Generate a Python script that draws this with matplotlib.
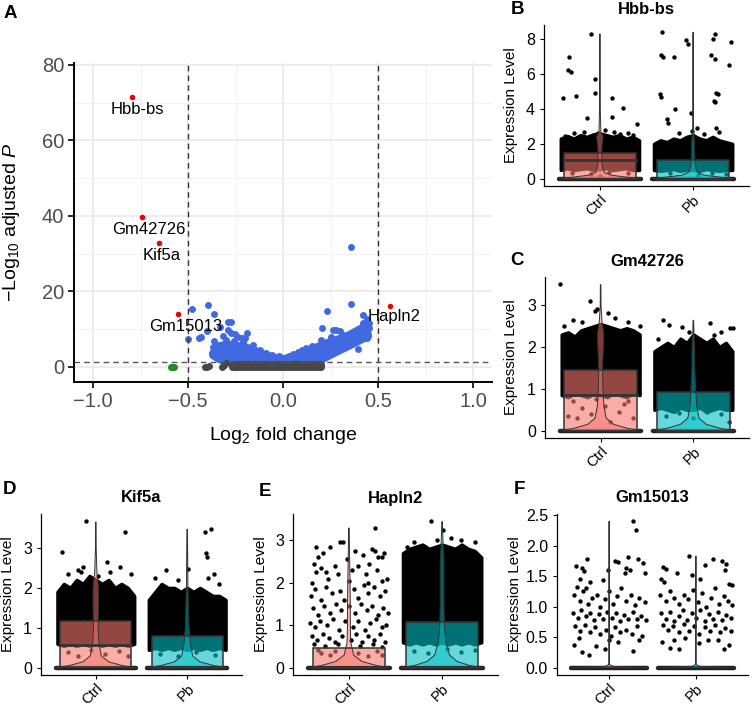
import numpy as np
import matplotlib
matplotlib.use('Agg')
import matplotlib.pyplot as plt
from matplotlib.patches import Rectangle, Polygon

plt.rcParams['font.family'] = ['Liberation Sans', 'DejaVu Sans']
plt.rcParams['mathtext.fontset'] = 'custom'
plt.rcParams['mathtext.rm'] = 'Liberation Sans'
plt.rcParams['mathtext.it'] = 'Liberation Sans:italic'

# ---------------- panel A : volcano ----------------
lab_genes = ['Hbb-bs', 'Gm42726', 'Kif5a', 'Gm15013', 'Hapln2']
lab_fc = [-0.795, -0.744, -0.654, -0.551, 0.561]
lab_p = [71.4, 39.7, 32.8, 13.9, 16.2]

blue_fc = [-0.477, -0.393, -0.363, -0.291, -0.275, -0.498, -0.44, -0.43, -0.332, -0.288,
           -0.275, -0.253, -0.317, -0.238, -0.217, -0.188, -0.398, -0.361, -0.367, -0.349,
           -0.375, -0.34, -0.30, -0.26, -0.21, -0.16, -0.12, -0.09, -0.06, -0.20,
           0.356, 0.356, 0.23, 0.419, 0.44, 0.45, 0.45, 0.44, 0.447, 0.207,
           0.265, 0.28, 0.30, 0.317, 0.393, 0.44, 0.25, 0.34, 0.37, 0.40,
           0.20, 0.15, 0.10, 0.05, 0.42, 0.43, 0.38, 0.33, 0.12, 0.08, 0.03, -0.02]
blue_p = [15.3, 16.3, 14.0, 11.9, 11.9, 7.3, 7.6, 7.9, 10.7, 9.8,
          8.9, 8.6, 8.2, 7.9, 7.7, 8.9, 9.5, 6.9, 5.4, 5.4,
          3.8, 2.3, 7.0, 6.8, 6.5, 5.8, 4.5, 3.8, 3.2, 7.6,
          31.8, 16.7, 14.8, 13.8, 12.6, 11.6, 10.4, 9.4, 8.5, 10.2,
          9.9, 9.9, 9.6, 8.5, 4.7, 7.6, 7.9, 7.3, 8.0, 8.8,
          7.0, 5.5, 4.4, 3.4, 11.6, 10.8, 9.2, 8.0, 5.0, 4.0, 3.0, 2.8]

# envelope of the densely packed blue points
blue_core_fc = [-0.37, -0.35, -0.30, -0.25, -0.20, -0.15, -0.10, -0.05, 0.00, 0.05, 0.10,
                0.15, 0.20, 0.25, 0.30, 0.35, 0.40, 0.44,
                0.45, 0.40, 0.35, 0.30, 0.26, 0.21, 0.19, -0.30, -0.34, -0.37]
blue_core_p = [3.5, 5.5, 6.0, 5.8, 5.4, 4.5, 3.4, 2.6, 2.2, 2.7, 3.7,
               4.8, 5.8, 6.8, 7.6, 8.6, 10.0, 11.0,
               8.0, 6.8, 5.5, 4.3, 3.3, 2.0, 1.3, 1.3, 2.0, 3.0]

grey_fc = [-0.40, -0.39, -0.41, -0.32, -0.31, -0.30, -0.315]
grey_p = [0.0, 0.3, 0.1, 0.0, 0.6, 1.0, 0.3]
grey_core_fc = [-0.27, 0.20, 0.20, -0.27]
grey_core_p = [0.0, 0.0, 0.9, 0.9]

green_fc = [-0.592, -0.583, -0.575]
green_p = [0.0, 0.0, 0.0]

fc_cut = 0.5
p_cut = 1.3

# ---------------- violin panels ----------------
genes = ['Hbb-bs', 'Gm42726', 'Kif5a', 'Hapln2', 'Gm15013']
panel_letters = ['B', 'C', 'D', 'E', 'F']
groups = ['Ctrl', 'Pb']
group_colors = ['#F8766D', '#00BFC4']

# (q1, median, q3)
box_ctrl = [(0.0, 1.06, 1.50), (0.0, 0.86, 1.44), (0.02, 0.56, 1.17), (0.02, 0.03, 0.47), (0.0, 0.0, 0.0)]
box_pb = [(0.0, 0.0, 1.07), (0.0, 0.0, 0.92), (0.02, 0.02, 0.79), (0.02, 0.03, 1.08), (0.0, 0.0, 0.0)]
max_ctrl = [8.30, 3.49, 3.65, 3.29, 2.40]
max_pb = [8.40, 2.64, 3.47, 3.44, 1.83]

# violin half-width profiles
vln_y_ctrl = [[0, 0.08, 0.2, 0.35, 0.6, 1.0, 1.6, 2.0, 2.4, 2.7, 4.0, 8.30],
              [0, 0.05, 0.15, 0.3, 0.6, 1.0, 1.5, 2.0, 2.3, 2.6, 3.0, 3.49],
              [0, 0.05, 0.15, 0.3, 0.6, 1.0, 1.5, 2.0, 2.4, 3.0, 3.65],
              [0, 0.05, 0.15, 0.3, 0.6, 1.0, 1.5, 2.0, 2.5, 3.29],
              [0, 0.02, 0.05, 2.40]]
vln_w_ctrl = [[0.46, 0.30, 0.12, 0.05, 0.03, 0.02, 0.02, 0.025, 0.035, 0.01, 0.004, 0.003],
              [0.46, 0.30, 0.14, 0.06, 0.035, 0.025, 0.02, 0.03, 0.035, 0.015, 0.004, 0.003],
              [0.46, 0.30, 0.14, 0.06, 0.035, 0.025, 0.03, 0.03, 0.012, 0.004, 0.003],
              [0.46, 0.30, 0.14, 0.05, 0.02, 0.015, 0.015, 0.012, 0.008, 0.003],
              [0.46, 0.05, 0.004, 0.003]]
vln_y_pb = [[0, 0.08, 0.2, 0.35, 0.6, 1.0, 2.0, 3.0, 8.40],
            [0, 0.05, 0.15, 0.3, 0.6, 1.0, 1.5, 1.9, 2.2, 2.64],
            [0, 0.05, 0.15, 0.3, 0.6, 1.0, 1.5, 2.0, 3.47],
            [0, 0.05, 0.15, 0.3, 0.6, 1.0, 1.5, 2.0, 2.5, 2.8, 3.44],
            [0, 0.02, 0.05, 1.83]]
vln_w_pb = [[0.46, 0.30, 0.12, 0.05, 0.03, 0.02, 0.015, 0.004, 0.003],
            [0.46, 0.30, 0.14, 0.06, 0.035, 0.025, 0.015, 0.015, 0.008, 0.003],
            [0.46, 0.30, 0.14, 0.06, 0.035, 0.02, 0.015, 0.008, 0.003],
            [0.46, 0.30, 0.16, 0.08, 0.04, 0.025, 0.02, 0.02, 0.02, 0.012, 0.003],
            [0.46, 0.05, 0.004, 0.003]]

# dense jitter cloud: upper / lower edge at these offsets
cloud_dx = [-0.42, -0.35, -0.28, -0.21, -0.14, -0.07, 0.0, 0.07, 0.14, 0.21, 0.28, 0.35, 0.42]
cloud_top_ctrl = [[2.3, 2.45, 2.3, 2.5, 2.4, 2.55, 2.6, 2.5, 2.4, 2.5, 2.3, 2.4, 2.2],
                  [2.3, 2.35, 2.25, 2.4, 2.45, 2.5, 2.55, 2.5, 2.45, 2.4, 2.45, 2.4, 2.3],
                  [1.9, 2.1, 2.0, 2.2, 2.1, 2.3, 2.2, 2.1, 2.2, 2.0, 2.1, 2.0, 1.8],
                  None, None]
cloud_bot_ctrl = [[0.5, 0.6, 0.5, 0.55, 0.6, 0.5, 0.55, 0.6, 0.5, 0.55, 0.6, 0.5, 0.5],
                  [0.85, 0.8, 0.9, 0.85, 0.8, 0.9, 0.85, 0.8, 0.9, 0.85, 0.8, 0.9, 0.85],
                  [0.6, 0.55, 0.6, 0.55, 0.6, 0.55, 0.6, 0.55, 0.6, 0.55, 0.6, 0.55, 0.6],
                  None, None]
cloud_top_pb = [[2.0, 2.2, 2.1, 2.3, 2.2, 2.4, 2.5, 2.3, 2.2, 2.4, 2.2, 2.1, 2.0],
                [1.9, 2.0, 2.1, 2.0, 2.2, 2.1, 2.3, 2.2, 2.1, 2.2, 2.0, 2.1, 1.9],
                [1.7, 1.9, 2.1, 2.0, 2.0, 1.9, 2.0, 1.9, 2.0, 1.9, 1.8, 1.8, 1.7],
                [2.7, 2.8, 2.85, 2.9, 2.8, 2.85, 2.9, 2.85, 2.8, 2.9, 2.8, 2.75, 2.6],
                None]
cloud_bot_pb = [[0.5, 0.45, 0.5, 0.55, 0.45, 0.5, 0.5, 0.45, 0.55, 0.5, 0.45, 0.5, 0.5],
                [0.5, 0.55, 0.5, 0.45, 0.55, 0.5, 0.5, 0.55, 0.45, 0.5, 0.55, 0.5, 0.5],
                [0.45, 0.5, 0.45, 0.5, 0.45, 0.5, 0.45, 0.5, 0.45, 0.5, 0.45, 0.5, 0.45],
                [0.6, 0.55, 0.6, 0.55, 0.6, 0.55, 0.6, 0.55, 0.6, 0.55, 0.6, 0.55, 0.6],
                None]

# individually visible jitter points (offset from group centre, expression)
hbb_ctrl_pts = [(-0.40, 4.64), (-0.33, 7.01), (-0.34, 6.25), (-0.31, 6.13), (-0.26, 4.75), (-0.10, 8.3),
                (-0.05, 5.71), (-0.05, 4.92), (-0.14, 3.5), (0.13, 4.62), (0.13, 3.52), (0.25, 4.08),
                (0.40, 3.14), (-0.17, 2.7), (-0.02, 2.65), (0.05, 2.8), (0.15, 2.7), (0.30, 2.6),
                (-0.38, 2.45), (0.36, 2.5), (-0.28, 2.6), (0.22, 2.55),
                (-0.3, 0.35), (-0.1, 0.25), (0.1, 0.4), (0.3, 0.3), (0.0, 0.15)]
hbb_pb_pts = [(-0.33, 8.39), (-0.34, 7.1), (-0.32, 7.0), (-0.21, 7.0), (-0.08, 7.97), (-0.06, 7.74),
              (0.21, 7.99), (0.24, 8.3), (0.41, 7.85), (0.19, 7.1), (0.24, 6.86), (0.38, 6.53),
              (-0.35, 4.85), (-0.34, 4.67), (-0.19, 3.98), (-0.28, 3.43), (-0.27, 3.2), (-0.02, 3.75),
              (0.25, 4.9), (0.27, 4.88), (0.22, 4.45), (0.24, 4.42), (0.04, 2.9), (0.25, 2.9),
              (0.28, 2.66), (-0.01, 2.76), (-0.15, 2.6), (0.12, 2.55),
              (-0.25, 0.3), (0.05, 0.2), (0.2, 0.35), (0.35, 0.25)]
gm42_ctrl_pts = [(-0.435, 3.5), (-0.12, 3.11), (-0.06, 2.87), (-0.04, 2.9), (0.08, 2.82), (-0.3, 2.65),
                 (0.15, 2.7), (0.3, 2.6), (-0.2, 2.6), (0.42, 2.5), (-0.4, 2.5),
                 (-0.3, 0.7), (-0.2, 0.55), (-0.1, 0.4), (0.05, 0.6), (0.2, 0.45), (0.3, 0.7),
                 (0.35, 0.3), (-0.35, 0.35), (0.1, 0.2), (-0.05, 0.75), (0.25, 0.65), (-0.25, 0.3)]
gm42_pb_pts = [(-0.33, 2.64), (0.18, 2.58), (-0.26, 2.52), (-0.12, 2.48), (0.40, 2.46), (0.43, 2.46),
               (0.22, 2.29), (-0.05, 2.35), (0.3, 2.35), (-0.38, 2.2),
               (-0.3, 0.35), (-0.15, 0.42), (0.0, 0.3), (0.15, 0.45), (0.3, 0.4), (0.38, 0.2)]
kif_ctrl_pts = [(-0.11, 3.67), (0.32, 3.41), (-0.37, 2.9), (0.12, 2.66), (-0.14, 2.52), (-0.2, 2.44),
                (-0.16, 2.4), (0.26, 2.52), (0.02, 2.3), (-0.3, 2.35), (0.38, 2.35), (0.15, 2.4),
                (-0.3, 0.4), (-0.2, 0.3), (-0.05, 0.45), (0.1, 0.35), (0.25, 0.42), (0.35, 0.3)]
kif_pb_pts = [(0.20, 3.39), (0.26, 3.47), (0.21, 2.88), (0.22, 2.77), (0.01, 2.48), (-0.23, 2.44),
              (0.29, 2.36), (0.23, 2.26), (-0.35, 2.25), (-0.1, 2.2), (0.35, 2.1),
              (-0.3, 0.35), (-0.1, 0.3), (0.1, 0.4), (0.3, 0.32)]
hap_ctrl_pts = [(-0.38, 2.45), (-0.33, 2.6), (-0.28, 2.7), (-0.2, 2.85), (-0.1, 2.95), (-0.06, 2.95),
                (0.06, 2.75), (0.15, 2.65), (0.25, 2.8), (0.28, 2.75), (0.35, 2.6), (0.38, 2.7),
                (-0.40, 2.0), (-0.35, 2.25), (-0.3, 2.35), (-0.22, 2.1), (-0.15, 2.4), (-0.12, 2.2),
                (-0.02, 2.55), (0.03, 2.3), (0.1, 2.4), (0.18, 2.2), (0.22, 2.45), (0.3, 2.3),
                (0.36, 2.05), (0.41, 2.1), (-0.41, 1.7), (-0.36, 1.85), (-0.3, 1.6), (-0.25, 1.9),
                (-0.18, 1.75), (-0.1, 1.8), (-0.05, 1.6), (0.05, 1.85), (0.1, 1.65), (0.16, 1.95),
                (0.2, 1.75), (0.27, 1.9), (0.33, 1.7), (0.39, 1.8), (-0.39, 1.4), (-0.33, 1.25),
                (-0.27, 1.45), (-0.2, 1.3), (-0.14, 1.5), (-0.08, 1.35), (0.0, 1.45), (0.07, 1.3),
                (0.13, 1.5), (0.19, 1.35), (0.25, 1.45), (0.31, 1.25), (0.37, 1.4), (0.42, 1.3),
                (-0.42, 1.05), (-0.36, 0.95), (-0.31, 1.1), (-0.24, 1.0), (-0.17, 1.15), (-0.11, 0.9),
                (-0.04, 1.1), (0.04, 0.95), (0.1, 1.1), (0.17, 0.9), (0.23, 1.05), (0.29, 1.15),
                (0.35, 0.95), (0.4, 1.0), (-0.4, 0.75), (-0.34, 0.65), (-0.28, 0.8), (-0.21, 0.7),
                (-0.15, 0.6), (-0.07, 0.75), (0.02, 0.65), (0.08, 0.8), (0.14, 0.6), (0.21, 0.75),
                (0.27, 0.65), (0.33, 0.8), (0.39, 0.6), (-0.37, 0.55), (-0.26, 0.52), (-0.12, 0.55),
                (0.12, 0.52), (0.26, 0.55), (0.36, 0.5), (0.28, 3.28), (-0.35, 2.85), (0.0, 2.05),
                (-0.25, 2.25), (0.2, 2.0), (0.31, 2.6), (-0.3, 0.35), (-0.2, 0.3), (-0.15, 0.4),
                (0.1, 0.35), (0.2, 0.28), (0.3, 0.4), (0.35, 0.3), (-0.33, 0.42)]
hap_pb_pts = [(-0.12, 3.46), (0.01, 3.24), (-0.3, 2.95), (0.2, 3.0), (0.35, 2.95), (-0.38, 2.85),
              (0.1, 3.05), (-0.05, 3.0), (-0.3, 0.4), (-0.15, 0.35), (0.05, 0.45), (0.2, 0.38), (0.35, 0.42)]
gm15_ctrl_pts = [(0.28, 2.41), (0.31, 2.26), (-0.25, 1.78), (-0.38, 1.66), (-0.31, 1.64), (-0.29, 1.58),
                 (-0.33, 1.46), (-0.22, 1.41), (-0.37, 1.33), (-0.27, 1.30), (-0.07, 1.44), (-0.01, 1.6),
                 (0.07, 1.75), (0.1, 1.74), (0.22, 1.81), (0.33, 1.78), (0.41, 1.55), (0.39, 1.71),
                 (0.2, 1.63), (0.24, 1.6), (0.18, 1.55), (-0.4, 1.2), (-0.34, 1.1), (-0.3, 1.25),
                 (-0.24, 1.05), (-0.2, 1.15), (-0.14, 1.2), (-0.1, 1.0), (-0.05, 1.12), (0.0, 1.25),
                 (0.05, 1.05), (0.09, 1.18), (0.14, 1.3), (0.19, 1.1), (0.25, 1.2), (0.3, 1.02),
                 (0.35, 1.15), (0.41, 1.08), (-0.41, 0.9), (-0.36, 0.82), (-0.32, 0.95), (-0.27, 0.85),
                 (-0.22, 0.9), (-0.17, 0.78), (-0.12, 0.88), (-0.07, 0.8), (-0.02, 0.92), (0.03, 0.82),
                 (0.08, 0.9), (0.12, 0.76), (0.17, 0.86), (0.22, 0.8), (0.27, 0.92), (0.32, 0.8),
                 (0.37, 0.85), (0.42, 0.78), (-0.39, 0.68), (-0.33, 0.6), (-0.28, 0.7), (-0.22, 0.58),
                 (-0.16, 0.66), (-0.1, 0.55), (-0.04, 0.62), (0.02, 0.52), (0.07, 0.66), (0.13, 0.58),
                 (0.2, 0.62), (0.26, 0.55), (0.32, 0.68), (0.38, 0.52), (-0.4, 0.38), (-0.31, 0.26),
                 (-0.23, 0.2), (-0.15, 0.35), (-0.05, 0.3), (0.1, 0.42), (0.28, 0.27), (0.35, 0.45),
                 (-0.35, 0.48), (0.0, 0.45)]
gm15_pb_pts = [(-0.08, 1.83), (0.2, 1.78), (0.3, 1.75), (-0.38, 1.65), (-0.35, 1.62), (-0.22, 1.55),
               (-0.05, 1.52), (0.1, 1.68), (0.35, 1.7), (0.33, 1.6), (0.38, 1.38), (0.41, 1.35),
               (-0.4, 1.45), (-0.37, 1.4), (0.05, 1.46), (-0.41, 1.2), (-0.35, 1.1), (-0.3, 1.25),
               (-0.25, 1.15), (-0.19, 1.05), (-0.14, 1.2), (-0.09, 1.12), (-0.03, 1.28), (0.02, 1.08),
               (0.07, 1.22), (0.12, 1.0), (0.17, 1.15), (0.22, 1.3), (0.27, 1.05), (0.32, 1.18),
               (0.37, 1.1), (0.42, 1.02), (-0.4, 0.9), (-0.35, 0.8), (-0.3, 0.92), (-0.25, 0.76),
               (-0.2, 0.85), (-0.15, 0.95), (-0.1, 0.78), (-0.05, 0.9), (0.0, 0.82), (0.05, 0.94),
               (0.1, 0.76), (0.15, 0.88), (0.2, 0.8), (0.25, 0.92), (0.3, 0.78), (0.35, 0.86),
               (0.4, 0.82), (-0.38, 0.7), (-0.32, 0.62), (-0.26, 0.68), (-0.2, 0.58), (-0.14, 0.72),
               (-0.08, 0.6), (-0.02, 0.68), (0.04, 0.56), (0.1, 0.66), (0.16, 0.6), (0.22, 0.7),
               (0.28, 0.58), (0.34, 0.65), (0.4, 0.6), (-0.39, 0.42), (-0.3, 0.33), (-0.2, 0.3),
               (-0.12, 0.48), (0.03, 0.4), (0.14, 0.46), (0.25, 0.45), (0.32, 0.3), (0.38, 0.38),
               (-0.25, 0.45)]
pts_ctrl = [hbb_ctrl_pts, gm42_ctrl_pts, kif_ctrl_pts, hap_ctrl_pts, gm15_ctrl_pts]
pts_pb = [hbb_pb_pts, gm42_pb_pts, kif_pb_pts, hap_pb_pts, gm15_pb_pts]

y_ticks = [[0, 2, 4, 6, 8], [0, 1, 2, 3], [0, 1, 2, 3], [0, 1, 2, 3], [0, 0.5, 1.0, 1.5, 2.0, 2.5]]
y_lims = [(-0.42, 8.82), (-0.175, 3.675), (-0.18, 3.85), (-0.17, 3.62), (-0.12, 2.52)]

# ---------------- layout (pixels) ----------------
W, H = 753, 706
fig = plt.figure(figsize=(W / 100, H / 100), dpi=100)


def add_px_axes(l, t, r, b):
    return fig.add_axes([l / W, 1 - b / H, (r - l) / W, (b - t) / H])


# ---- panel A ----
axA = add_px_axes(74, 63, 492, 382)
axA.set_xlim(-1.1, 1.1)
axA.set_ylim(-4, 80.5)
axA.set_xticks([-1.0, -0.5, 0.0, 0.5, 1.0])
axA.set_xticks([-0.75, -0.25, 0.25, 0.75], minor=True)
axA.set_yticks([0, 20, 40, 60, 80])
axA.set_yticks([10, 30, 50, 70], minor=True)
axA.grid(which='major', color='#EBEBEB', lw=1.3, zorder=0)
axA.grid(which='minor', color='#F2F2F2', lw=0.8, zorder=0)
axA.set_axisbelow(True)
for s in ['top', 'right']:
    axA.spines[s].set_visible(False)
for s in ['left', 'bottom']:
    axA.spines[s].set_linewidth(1.4)
axA.tick_params(which='major', length=4, width=1.2, labelsize=14.5, labelcolor='#4D4D4D', pad=3)
axA.tick_params(which='minor', length=0)
axA.set_xticklabels(['\u22121.0', '\u22120.5', '0.0', '0.5', '1.0'])

blue = '#4169E1'
axA.add_patch(Polygon(np.column_stack([blue_core_fc, blue_core_p]), closed=True,
                      facecolor=blue, edgecolor=blue, lw=5, joinstyle='round', zorder=2))
axA.scatter(blue_fc, blue_p, s=25, color=blue, lw=0, zorder=3)
axA.add_patch(Polygon(np.column_stack([grey_core_fc, grey_core_p]), closed=True,
                      facecolor='#474747', edgecolor='#474747', lw=5, joinstyle='round', zorder=4))
axA.scatter(grey_fc, grey_p, s=25, color='#474747', lw=0, zorder=4)
axA.scatter(green_fc, green_p, s=25, color='#228B22', lw=0, zorder=4)
axA.scatter(lab_fc, lab_p, s=16, color='#EE0000', lw=0, zorder=5)

axA.axvline(-fc_cut, color='#333333', ls=(0, (4, 3)), lw=1.0, zorder=6)
axA.axvline(fc_cut, color='#333333', ls=(0, (4, 3)), lw=1.0, zorder=6)
axA.axhline(p_cut, color='#555555', ls=(0, (4, 3)), lw=1.0, zorder=6)

label_offsets_px = [(5, -12), (7, -12), (3, -12), (7, -12), (5, -11)]
for g, x, y, (ox, oy) in zip(lab_genes, lab_fc, lab_p, label_offsets_px):
    axA.annotate(g, (x, y), xytext=(ox * 0.72, oy * 0.72), textcoords='offset points',
                 ha='center', va='center', fontsize=12, zorder=7)

axA.set_xlabel(r'$\mathrm{Log}_{2}$ fold change', fontsize=14)
axA.set_ylabel(r'$-\mathrm{Log}_{10}$ adjusted $\mathit{P}$', fontsize=14)
axA.xaxis.set_label_coords(0.5, -0.135)
axA.yaxis.set_label_coords(-0.124, 0.5)
fig.text(10 / W, 1 - 13 / H, 'A', fontsize=13.5, fontweight='bold', ha='center', va='center')

# ---- violin panels ----
vln_axes_px = [(544, 25, 749, 186), (545, 277, 749, 438), (41, 514, 242, 675),
               (293, 514, 498, 675), (557, 514, 748, 675)]
letter_px = [(517, 10), (517, 260), (10, 490), (265, 491), (519, 490)]
title_py = [10, 262, 498, 498, 498]
ylabel_px = [518, 518, 15, 268, 522]


def draw_group(ax, cx, color, box, vmax, vy, vw, ctop, cbot, pts):
    # dense jitter cloud
    if ctop is not None:
        xs = np.array(cloud_dx) + cx
        ax.fill_between(xs, cbot, ctop, color='black', lw=2.5, zorder=2)
    if pts:
        p = np.array(pts)
        ax.scatter(p[:, 0] + cx, p[:, 1], s=10, color='black', lw=0, zorder=2)
    # zero-valued cells
    ax.plot([cx - 0.44, cx + 0.44], [0, 0], color='#1f1f1f', lw=3.2,
            solid_capstyle='round', zorder=3)
    q1, med, q3 = box
    if q3 > q1:
        ax.add_patch(Rectangle((cx - 0.39, q1), 0.78, q3 - q1, facecolor=color, alpha=0.6,
                               edgecolor='none', zorder=4))
        ax.add_patch(Rectangle((cx - 0.39, q1), 0.78, q3 - q1, facecolor='none',
                               edgecolor='#333333', lw=1.1, zorder=6))
    vy = np.array(vy)
    vw = np.array(vw)
    poly = np.column_stack([np.concatenate([cx + vw, (cx - vw)[::-1]]),
                            np.concatenate([vy, vy[::-1]])])
    ax.add_patch(Polygon(poly, closed=True, facecolor=color, alpha=0.5, edgecolor='none', zorder=5))
    ax.add_patch(Polygon(poly, closed=True, facecolor='none', edgecolor='#333333', lw=0.7, zorder=5))
    if q3 > q1:
        ax.plot([cx - 0.39, cx + 0.39], [med, med], color='#333333', lw=2.0, zorder=6)


for i, g in enumerate(genes):
    ax = add_px_axes(*vln_axes_px[i])
    ax.set_xlim(0.4, 2.6)
    ax.set_ylim(*y_lims[i])
    draw_group(ax, 1, group_colors[0], box_ctrl[i], max_ctrl[i], vln_y_ctrl[i], vln_w_ctrl[i],
               cloud_top_ctrl[i], cloud_bot_ctrl[i], pts_ctrl[i])
    draw_group(ax, 2, group_colors[1], box_pb[i], max_pb[i], vln_y_pb[i], vln_w_pb[i],
               cloud_top_pb[i], cloud_bot_pb[i], pts_pb[i])
    for s in ['top', 'right']:
        ax.spines[s].set_visible(False)
    for s in ['left', 'bottom']:
        ax.spines[s].set_linewidth(0.9)
    ax.set_xticks([1, 2])
    ax.set_xticklabels(groups, rotation=45, ha='right', va='top', rotation_mode='anchor')
    ax.set_yticks(y_ticks[i])
    if i == 4:
        ax.set_yticklabels(['%.1f' % v for v in y_ticks[i]])
    ax.tick_params(length=3, width=0.8, colors='black')
    ax.tick_params(axis='y', labelsize=11.5)
    ax.tick_params(axis='x', labelsize=10.5, pad=1.5)
    ax.set_ylabel('Expression Level', fontsize=11)
    l, t, r, b = vln_axes_px[i]
    ax.yaxis.set_label_coords((ylabel_px[i] - l) / (r - l), 0.5)
    fig.text(((l + r) / 2) / W, 1 - title_py[i] / H, g, fontsize=12, fontweight='bold',
             ha='center', va='center')
    lx, ly = letter_px[i]
    fig.text(lx / W, 1 - ly / H, panel_letters[i], fontsize=13.5, fontweight='bold',
             ha='center', va='center')

fig.savefig('out.png', dpi=100)
